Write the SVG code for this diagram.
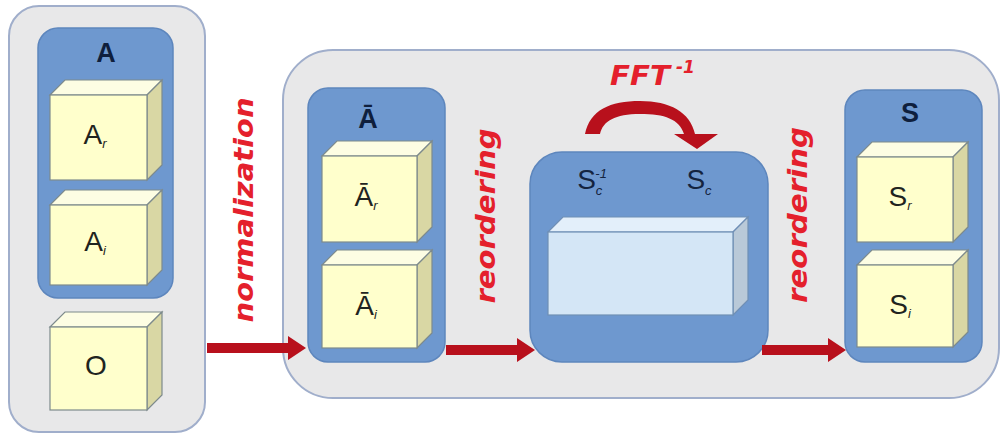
<svg xmlns="http://www.w3.org/2000/svg" width="1005" height="437" viewBox="0 0 1005 437">
<defs>
<style>
.panel{fill:#e8e8e9;stroke:#a0aecb;stroke-width:2}
.cont{fill:#6e98cf;stroke:#5d86bd;stroke-width:1.5}
.cf{fill:#ffffcc;stroke:#7d8a8c;stroke-width:1.2}
.ct{fill:#fdfde3;stroke:#7d8a8c;stroke-width:1.2}
.cr{fill:#d9d7a4;stroke:#7d8a8c;stroke-width:1.2}
.bf{fill:#d4e6f6;stroke:#6f8fb5;stroke-width:1.2}
.bt{fill:#e3effa;stroke:#6f8fb5;stroke-width:1.2}
.br{fill:#b9c9d8;stroke:#6f8fb5;stroke-width:1.2}
.hd{font-family:"Liberation Sans",Arial,sans-serif;font-weight:bold;font-size:27px;fill:#0f1f3d;text-anchor:middle}
.lb{font-family:"Liberation Sans",Arial,sans-serif;font-size:28px;fill:#1f2420;text-anchor:middle}
.sb{font-size:13px;font-style:italic}
.sc{font-family:"Liberation Sans",Arial,sans-serif;font-size:28px;fill:#142440;text-anchor:middle}
.rl{font-family:"DejaVu Sans","Liberation Sans",sans-serif;font-weight:bold;font-style:oblique;font-size:27px;fill:#e4202c;text-anchor:middle}
.arr{fill:#b8101c}
</style>
</defs>
<rect width="1005" height="437" fill="#ffffff"/>

<g id="panel-left">
<rect class="panel" x="9" y="6" width="196" height="426" rx="30"/>
</g>
<g id="panel-main">
<rect class="panel" x="283" y="50" width="716" height="348" rx="50"/>
</g>

<g id="node-A">
<rect class="cont" x="38" y="28" width="135" height="270" rx="20"/>
<text class="hd" x="106" y="62">A</text>
<g id="node-Ar">
<polygon class="ct" points="50,95 65,80 162,80 147,95"/>
<polygon class="cr" points="147,95 162,80 162,165 147,180"/>
<rect class="cf" x="50" y="95" width="97" height="85"/>
<text class="lb" x="95" y="144">A<tspan class="sb" dy="4">r</tspan></text>
</g>
<g id="node-Ai">
<polygon class="ct" points="50,205 65,190 162,190 147,205"/>
<polygon class="cr" points="147,205 162,190 162,270 147,285"/>
<rect class="cf" x="50" y="205" width="97" height="80"/>
<text class="lb" x="95" y="251">A<tspan class="sb" dy="4">i</tspan></text>
</g>
</g>

<g id="node-O">
<polygon class="ct" points="50,327 65,312 162,312 147,327"/>
<polygon class="cr" points="147,327 162,312 162,395 147,410"/>
<rect class="cf" x="50" y="327" width="97" height="83"/>
<text class="lb" x="96" y="375">O</text>
</g>

<g id="node-Abar">
<rect class="cont" x="308" y="88" width="137" height="274" rx="20"/>
<text class="hd" x="368" y="128">Ā</text>
<g id="node-Abar-r">
<polygon class="ct" points="322,156 337,141 432,141 417,156"/>
<polygon class="cr" points="417,156 432,141 432,227 417,242"/>
<rect class="cf" x="322" y="156" width="95" height="86"/>
<text class="lb" x="366" y="206">Ā<tspan class="sb" dy="4">r</tspan></text>
</g>
<g id="node-Abar-i">
<polygon class="ct" points="322,265 337,250 432,250 417,265"/>
<polygon class="cr" points="417,265 432,250 432,333 417,348"/>
<rect class="cf" x="322" y="265" width="95" height="83"/>
<text class="lb" x="366" y="315">Ā<tspan class="sb" dy="4">i</tspan></text>
</g>
</g>

<g id="node-Sc">
<rect class="cont" x="530" y="152" width="238" height="210" rx="32"/>
<text class="sc" x="592" y="189">S<tspan class="sb" dy="6" font-style="normal">c</tspan><tspan class="sb" dx="-7" dy="-17">-1</tspan></text>
<text class="sc" x="699" y="189">S<tspan class="sb" dy="6" font-style="normal">c</tspan></text>
<polygon class="bt" points="548,232 563,217 748,217 733,232"/>
<polygon class="br" points="733,232 748,217 748,300 733,315"/>
<rect class="bf" x="548" y="232" width="185" height="83"/>
</g>

<g id="node-S">
<rect class="cont" x="845" y="90" width="137" height="272" rx="20"/>
<text class="hd" x="910" y="122">S</text>
<g id="node-Sr">
<polygon class="ct" points="857,157 872,142 968,142 953,157"/>
<polygon class="cr" points="953,157 968,142 968,227 953,242"/>
<rect class="cf" x="857" y="157" width="96" height="85"/>
<text class="lb" x="900" y="206">S<tspan class="sb" dy="4">r</tspan></text>
</g>
<g id="node-Si">
<polygon class="ct" points="857,265 872,250 968,250 953,265"/>
<polygon class="cr" points="953,265 968,250 968,332 953,347"/>
<rect class="cf" x="857" y="265" width="96" height="82"/>
<text class="lb" x="900" y="314">S<tspan class="sb" dy="4">i</tspan></text>
</g>
</g>

<g id="connectors">
<polygon class="arr" points="207,343 288,343 288,336 306,348 288,360 288,353 207,353"/>
<polygon class="arr" points="446,345 517,345 517,338 535,350 517,362 517,355 446,355"/>
<polygon class="arr" points="762,345 828,345 828,338 846,350 828,362 828,355 762,355"/>
<path class="arr" d="M585,134 C590,110 610,101 640,101 C670,101 690,112 695,134 L718,134 L697,149 L674,134 L684,134 C679,119 665,114 640,114 C615,114 603,121 600,134 Z"/>
<text class="rl" transform="translate(253,210) rotate(-90)" textLength="225" lengthAdjust="spacingAndGlyphs">normalization</text>
<text class="rl" transform="translate(495,216) rotate(-90)" textLength="175" lengthAdjust="spacingAndGlyphs">reordering</text>
<text class="rl" transform="translate(807,215) rotate(-90)" textLength="176" lengthAdjust="spacingAndGlyphs">reordering</text>
<text class="rl" x="610" y="85" style="text-anchor:start"><tspan textLength="60" lengthAdjust="spacingAndGlyphs">FFT</tspan><tspan font-size="17" dx="6" dy="-12">-1</tspan></text>
</g>
</svg>
